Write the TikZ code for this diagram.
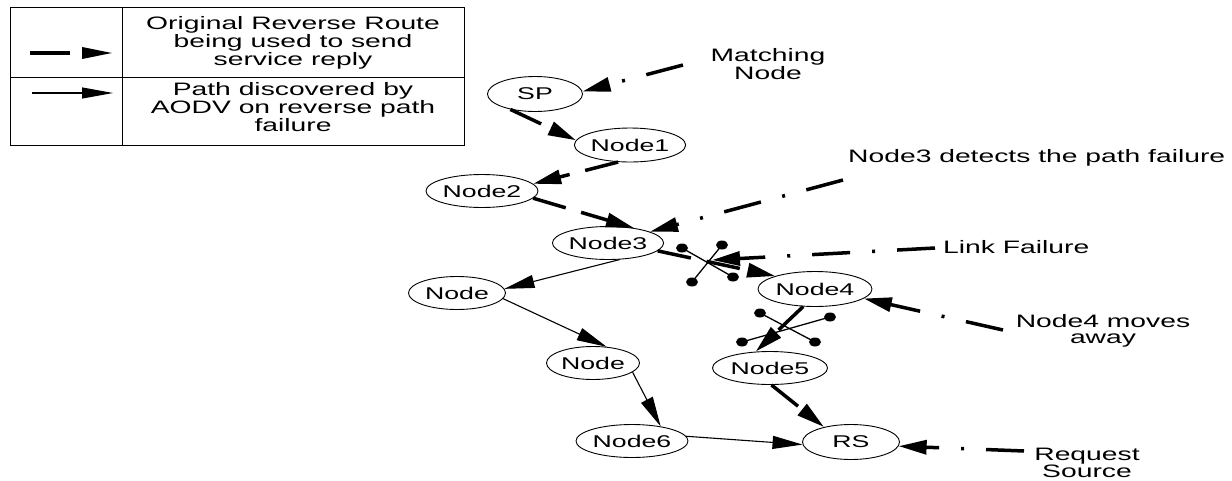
\documentclass[tikz,border=0pt]{standalone}
\usepackage{fontspec}
\setmainfont{Liberation Sans}[FakeStretch=1.57]
\usetikzlibrary{arrows.meta,shapes.geometric}
\begin{document}
\begin{tikzpicture}[x=1pt,y=-1pt,
  nd/.style={draw,ellipse,line width=0.9pt,inner sep=0pt,minimum height=33pt,font=\fontsize{17}{17}\selectfont},
  lbl/.style={align=center,inner sep=0pt,font=\fontsize{18}{16.5}\selectfont},
  tip/.style={-{Triangle[length=28pt,width=14pt]}},
  rev/.style={tip,line width=3.5pt,dash pattern=on 34pt off 16pt},
  aodv/.style={-{Triangle[length=30pt,width=13pt]},line width=1.1pt},
  note/.style={tip,line width=3.5pt,dash pattern=on 38pt off 22pt on 3pt off 22pt},
  brk/.style={line width=1.3pt},
  dotend/.style={fill,ellipse,inner sep=0pt,minimum width=12pt,minimum height=9pt}]
\useasboundingbox (0,0) rectangle (1232,480);
% legend
\draw[line width=1pt] (10,7) rectangle (464,145);
\draw[line width=1pt] (122,7) -- (122,145);
\draw[line width=1pt] (10,77) -- (464,77);
\coordinate (l1a) at (30,53); \coordinate (l1b) at (113,53);
\coordinate (l2a) at (32,93); \coordinate (l2b) at (113,93);
\draw[-{Triangle[length=31pt,width=11pt]},line width=3.5pt,dash pattern=on 40pt off 12pt] (l1a) -- (l1b);
\draw[-{Triangle[length=31pt,width=11pt]},line width=1.1pt] (l2a) -- (l2b);
\node[lbl] (leg1) at (293,43) {Original Reverse Route\\being used to send\\service reply};
\node[lbl] (leg2) at (293,107) {Path discovered by\\AODV on reverse path\\failure};
% nodes
\node[nd,minimum width=95pt,minimum height=35pt] (SP) at (535,94) {SP};
\node[nd,minimum width=104pt,minimum height=34pt] (N1) at (630,145) {Node1};
\node[nd,minimum width=112pt] (N2) at (482,191) {Node2};
\node[nd,minimum width=103pt] (N3) at (608,243) {Node3};
\node[nd,minimum width=97pt] (NA) at (457,293) {Node};
\node[nd,minimum width=114pt,minimum height=35pt] (N4) at (815,289) {Node4};
\node[nd,minimum width=93pt] (NB) at (593,363) {Node};
\node[nd,minimum width=115pt] (N5) at (770,368) {Node5};
\node[nd,minimum width=112pt] (N6) at (632,441) {Node6};
\node[nd,minimum width=97pt,minimum height=35pt] (RS) at (851,442) {RS};
% original reverse route
\draw[rev] (SP.-148) -- (N1.175);
\draw[rev] (N1.-125) -- (N2.8);
\draw[rev] (N2.-8) -- (N3.30);
\draw[rev] (N3.-9) -- (N4.162);
\draw[rev] (N4.-124) -- (N5.131);
\draw[rev] (N5.-85) -- (RS.151);
% AODV path
\draw[aodv] (N3.-55) -- (NA.5);
\draw[aodv] (NA.-7) -- (NB.50);
\draw[aodv] (NB.-13) -- (N6.27);
\draw[aodv] (N6.5) -- (RS.183);
% link break symbols
\coordinate (b1a) at (682,248); \coordinate (b1b) at (733,277);
\coordinate (b1c) at (722,245); \coordinate (b1d) at (692,282);
\draw[brk] (b1a) -- (b1b); \draw[brk] (b1c) -- (b1d);
\foreach \p in {b1a,b1b,b1c,b1d} \node[dotend] at (\p) {};
\coordinate (b2a) at (760,313); \coordinate (b2b) at (815,342);
\coordinate (b2c) at (830,317); \coordinate (b2d) at (742,342);
\draw[brk] (b2a) -- (b2b); \draw[brk] (b2c) -- (b2d);
\foreach \p in {b2a,b2b,b2c,b2d} \node[dotend] at (\p) {};
\coordinate (X1) at (712,260);
% annotations
\node[lbl] (tMatch) at (768,64) {Matching\\Node};
\node[lbl,anchor=west] (tDetect) at (848,158) {Node3 detects the path failure};
\node[lbl,anchor=west] (tLink) at (943,247) {Link Failure};
\node[lbl] (tMoves) at (1103,331) {Node4 moves\\away};
\node[lbl] (tReq) at (1087,463) {Request\\Source};
\coordinate (sMatch) at (683,65);
\coordinate (sDetect) at (843,180);
\coordinate (sLink) at (935,248);
\coordinate (sMoves) at (1003,330);
\coordinate (sReq) at (1024,451);
\draw[note] (sMatch) -- (SP.3);
\draw[note] (sDetect) -- (N3.15);
\draw[note] (sLink) -- (X1);
\draw[note] (sMoves) -- (N4.-11);
\draw[note] (sReq) -- (RS.-5);
\end{tikzpicture}
\end{document}
